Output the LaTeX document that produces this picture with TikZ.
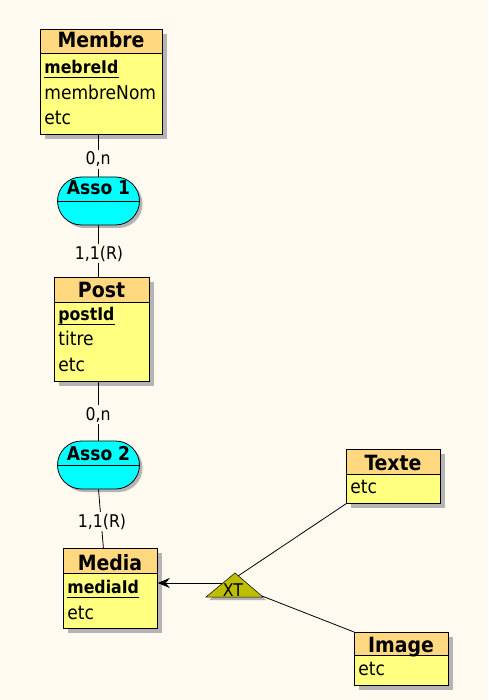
\documentclass[tikz,border=0pt]{standalone}
\usepackage{fontspec}
\setmainfont{DejaVu Sans Condensed}
\usetikzlibrary{shapes.misc,shadows,arrows.meta}
\definecolor{bgcol}{RGB}{255,250,240}
\definecolor{headcol}{RGB}{255,216,128}
\definecolor{bodycol}{RGB}{255,255,128}
\definecolor{assocol}{RGB}{0,255,255}
\definecolor{shadcol}{RGB}{180,180,180}
\definecolor{xtcol}{RGB}{190,190,0}
\begin{document}
\begin{tikzpicture}[x=1pt,y=-1pt,line width=0.8pt,
  entbody/.style={draw=black, fill=bodycol, inner sep=0pt, anchor=north west,
    drop shadow={fill=shadcol,opacity=1,shadow xshift=5pt,shadow yshift=-5pt}},
  enthead/.style={draw=black, fill=headcol, inner sep=0pt, anchor=north west},
  enttitle/.style={font=\bfseries\fontsize{21}{24}\selectfont, anchor=base, inner sep=0pt},
  attrtxt/.style={font=\fontsize{19}{22}\selectfont, anchor=base west, inner sep=0pt},
  keyattr/.style={attrtxt, font=\bfseries\fontsize{17.5}{22}\selectfont},
  keyline/.style={draw=black, line width=1pt},
  asso/.style={rounded rectangle, draw=black, fill=assocol, minimum width=82pt,
    minimum height=48pt, inner sep=0pt,
    drop shadow={fill=shadcol,opacity=1,shadow xshift=3pt,shadow yshift=-3pt}},
  assotext/.style={font=\bfseries\fontsize{19}{22}\selectfont, anchor=base, inner sep=0pt},
  cardlbl/.style={font=\fontsize{17.5}{20}\selectfont, anchor=base, fill=bgcol, inner sep=2pt},
  conn/.style={draw=black, line width=0.8pt}
]
\fill[bgcol] (0,0) rectangle (488,700);
\useasboundingbox (0,0) rectangle (488,700);

% Membre
\node[entbody, minimum width=122pt, minimum height=105pt] (membre) at (40,29) {};
\node[enthead, minimum width=122pt, minimum height=24pt] (membreH) at (membre.north west) {};
\node[enttitle] (membreT) at (101,48) {Membre};
\node[keyattr] (membreK) at (44,74) {mebreId};
\draw[keyline] ([yshift=-4pt]membreK.base west) -- ([yshift=-4pt]membreK.base east);
\node[attrtxt] (membreA1) at (44,100) {membreNom};
\node[attrtxt] (membreA2) at (44,125) {etc};

% Post
\node[entbody, minimum width=95pt, minimum height=104pt] (post) at (54,277) {};
\node[enthead, minimum width=95pt, minimum height=25pt] (postH) at (post.north west) {};
\node[enttitle] (postT) at (101.5,297) {Post};
\node[keyattr] (postK) at (58,320) {postId};
\draw[keyline] ([yshift=-4pt]postK.base west) -- ([yshift=-4pt]postK.base east);
\node[attrtxt] (postA1) at (58,345) {titre};
\node[attrtxt] (postA2) at (58,371) {etc};

% Media
\node[entbody, minimum width=94pt, minimum height=80pt] (media) at (63,548) {};
\node[enthead, minimum width=94pt, minimum height=25pt] (mediaH) at (media.north west) {};
\node[enttitle] (mediaT) at (110,570) {Media};
\node[keyattr] (mediaK) at (67,593) {mediaId};
\draw[keyline] ([yshift=-4pt]mediaK.base west) -- ([yshift=-4pt]mediaK.base east);
\node[attrtxt] (mediaA1) at (67,619) {etc};

% Texte
\node[entbody, minimum width=94pt, minimum height=54pt] (texte) at (346,449) {};
\node[enthead, minimum width=94pt, minimum height=25pt] (texteH) at (texte.north west) {};
\node[enttitle] (texteT) at (393,470) {Texte};
\node[attrtxt] (texteA1) at (350,493) {etc};

% Image
\node[entbody, minimum width=94pt, minimum height=53pt] (image) at (354,632) {};
\node[enthead, minimum width=94pt, minimum height=23pt] (imageH) at (image.north west) {};
\node[enttitle] (imageT) at (401,652) {Image};
\node[attrtxt] (imageA1) at (358,675) {etc};

% Associations
\node[asso] (asso1) at (98.5,201) {};
\draw (asso1.west) -- (asso1.east);
\node[assotext] (asso1T) at (98.5,195) {Asso 1};
\node[asso] (asso2) at (98.5,465) {};
\draw (asso2.west) -- (asso2.east);
\node[assotext] (asso2T) at (98.5,460) {Asso 2};

% Connectors
\draw[conn] (asso1.north) -- (asso1.north |- membre.south);
\draw[conn] (asso1.south) -- (asso1.south |- post.north);
\draw[conn] (asso2.north) -- (asso2.north |- post.south);
\draw[conn] (asso2.south) -- ([xshift=-7pt]media.north);

\node[cardlbl] (c1) at (98,165) {0,n};
\node[cardlbl] (c2) at (99,259) {1,1(R)};
\node[cardlbl] (c3) at (98,420) {0,n};
\node[cardlbl] (c4) at (102,527) {1,1(R)};

% XT specialisation
\coordinate (xtA) at (235,573);
\coordinate (xtL) at (206,597);
\coordinate (xtR) at (263,597);
\coordinate (xtTop) at (238,576);
\coordinate (xtSide) at (262,596);
\coordinate (xtArr) at (223,583);
\draw[conn] (xtTop) -- (texte.south west);
\draw[conn] (xtSide) -- (image.north west);
\draw[conn, -{Stealth[length=12pt,width=10pt,inset=4pt]}] (xtArr) -- (xtArr -| media.east);
\fill[shadcol] (238,576) -- (209,600) -- (266,600) -- cycle;
\filldraw[fill=xtcol, draw=black, line width=0.5pt] (xtA) -- (xtL) -- (xtR) -- cycle;
\node[font=\fontsize{17.5}{20}\selectfont, anchor=base, inner sep=0pt] (xt) at (233,596) {XT};
\end{tikzpicture}
\end{document}
